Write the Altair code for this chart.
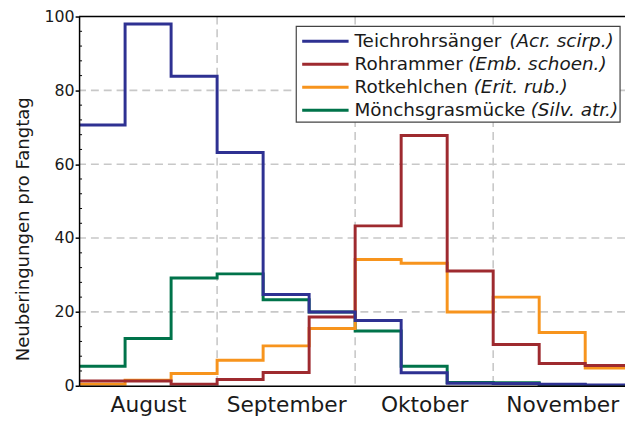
import json
import altair as alt
import pandas as pd

# ---------------- data ----------------
months = ["August", "September", "Oktober", "November"]
species = ["Teichrohrsänger", "Rohrammer", "Rotkehlchen", "Mönchsgrasmücke"]
latin = ["(Acr. scirp.)", "(Emb. schoen.)", "(Erit. rub.)", "(Silv. atr.)"]
colors = ["#2e3192", "#9e2a2f", "#f7941d", "#00734a"]

# ringings per catching day, per ten-day period (Aug 1-10 ... Nov 21-30)
teichrohrsaenger = [70.6, 98.0, 83.8, 63.2, 24.7, 20.0, 17.7, 3.5, 0.7, 0.6, 0.4, 0.2]
rohrammer = [1.3, 1.3, 0.4, 1.7, 3.6, 18.6, 43.3, 67.8, 31.1, 11.2, 6.0, 5.5]
rotkehlchen = [0.4, 1.5, 3.3, 6.9, 10.8, 15.5, 34.2, 33.2, 20.0, 24.0, 14.4, 4.8]
moenchsgrasmuecke = [5.3, 12.8, 29.2, 30.3, 23.3, 20.0, 14.8, 5.3, 0.9, 0.8, 0.3, 0.1]
series = [teichrohrsaenger, rohrammer, rotkehlchen, moenchsgrasmuecke]

y_ticks = [0, 20, 40, 60, 80, 100]
grid_y = [20, 40, 60, 80]
month_starts = [3, 6, 9]
month_centers = [1.5, 4.5, 7.5, 10.5]
minor_y = [v for v in range(0, 101, 4) if v % 20 != 0]

# ---------------- layout ----------------
FONT = "DejaVu Sans"
TXT = "#1a1a1a"
W, H = 553, 374
NBINS = 12
XMAX = NBINS * W / 559.3  # right part of November is cut off like in the reference

xs = alt.Scale(domain=[0, XMAX], nice=False, zero=False)
ys = alt.Scale(domain=[0, 100], nice=False, zero=False)

rows = []
for name, vals in zip(species, series):
    for i, v in enumerate(vals):
        rows.append({"species": name, "bin": i, "value": v})
    rows.append({"species": name, "bin": len(vals), "value": vals[-1]})
df = pd.DataFrame(rows)

label_expr = "%s[floor(datum.value / 3)]" % json.dumps(months)

x_axis = alt.Axis(values=month_centers, labelExpr=label_expr, tickSize=0,
                  labelFont=FONT, labelFontSize=22, labelColor=TXT,
                  labelBaseline="alphabetic", labelPadding=26, labelFlush=False,
                  labelOverlap=False, domainColor="black", domainWidth=1.5,
                  grid=False, title=None, zindex=1)
y_axis = alt.Axis(values=y_ticks, tickSize=4, tickColor="black", tickWidth=1.5,
                  labelFont=FONT, labelFontSize=16, labelPadding=1, labelColor=TXT,
                  domainColor="black", domainWidth=1.5, grid=False,
                  title="Neuberingungen pro Fangtag", titleFont=FONT,
                  titleFontSize=18.3, titleFontWeight="normal", titleColor=TXT,
                  titleAngle=270, titleX=-56, titleY=215, titleAlign="center",
                  titleBaseline="middle", zindex=1)


def X(field):
    return alt.X(field, scale=xs, axis=x_axis)


def Y(field):
    return alt.Y(field, scale=ys, axis=y_axis)


layers = []

hgrid = alt.Chart(pd.DataFrame({"y": grid_y})).mark_rule(
    color="#c8c8c8", strokeWidth=1.6, strokeDash=[8, 5]
).encode(y=Y("y:Q"))
vgrid = alt.Chart(pd.DataFrame({"x": month_starts})).mark_rule(
    color="#c8c8c8", strokeWidth=1.6, strokeDash=[8, 5]
).encode(x=X("x:Q"))
layers += [hgrid, vgrid]

for idx in [3, 2, 1, 0]:
    sub = df[df["species"] == species[idx]]
    layers.append(
        alt.Chart(sub).mark_line(
            interpolate="step-after", color=colors[idx], strokeWidth=3,
            clip=True, strokeJoin="miter", strokeCap="butt"
        ).encode(x=X("bin:Q"), y=Y("value:Q"))
    )

top_frame = alt.Chart(pd.DataFrame({"y": [100]})).mark_rule(
    color="black", strokeWidth=1.5
).encode(y=Y("y:Q"))
minor = alt.Chart(pd.DataFrame({"y": minor_y})).mark_rule(
    color="black", strokeWidth=1
).encode(x=alt.value(0), x2=alt.value(3), y=Y("y:Q"))
layers += [top_frame, minor]

# ---------------- legend (regular name + italic latin name) ----------------
one = pd.DataFrame({"k": [0]})
layers.append(
    alt.Chart(one).mark_rect(fill="white", stroke="#444444", strokeWidth=1.2).encode(
        x=alt.value(220), x2=alt.value(548), y=alt.value(10), y2=alt.value(107)
    )
)

# DejaVu Sans advance widths (em) for placing the italic part after the name
cw = {"T": .611, "e": .615, "i": .278, "c": .550, "h": .634, "r": .411, "o": .612,
      "s": .521, "ä": .613, "n": .634, "g": .635, "R": .695, "m": .974, "a": .613,
      "k": .579, "l": .278, "M": .863, "ö": .612, "ü": .634, "t": .392}
LFS = 18.6
for i in range(len(species)):
    yl = 25 + i * 23.33
    yb = 31 + i * 23.33
    wname = sum(cw.get(ch, .6) for ch in species[i]) * LFS
    layers.append(
        alt.Chart(one).mark_rule(color=colors[i], strokeWidth=3).encode(
            x=alt.value(226), x2=alt.value(273), y=alt.value(yl)
        )
    )
    layers.append(
        alt.Chart(one).mark_text(text=species[i], font=FONT, fontSize=LFS, align="left",
                                 baseline="alphabetic", color=TXT).encode(
            x=alt.value(279), y=alt.value(yb)
        )
    )
    layers.append(
        alt.Chart(one).mark_text(text=latin[i], font=FONT, fontSize=LFS, fontStyle="italic",
                                 align="left", baseline="alphabetic", color=TXT).encode(
            x=alt.value(279 + wname + 0.25 * LFS), y=alt.value(yb)
        )
    )

chart = alt.layer(*layers).properties(
    width=W, height=H,
    autosize=alt.AutoSizeParams(type="none"),
    padding={"left": 72, "top": 6, "right": 0, "bottom": 28},
    background="white",
).configure_view(stroke=None)

chart.save("out.html", embed_options={"renderer": "svg", "actions": False})
